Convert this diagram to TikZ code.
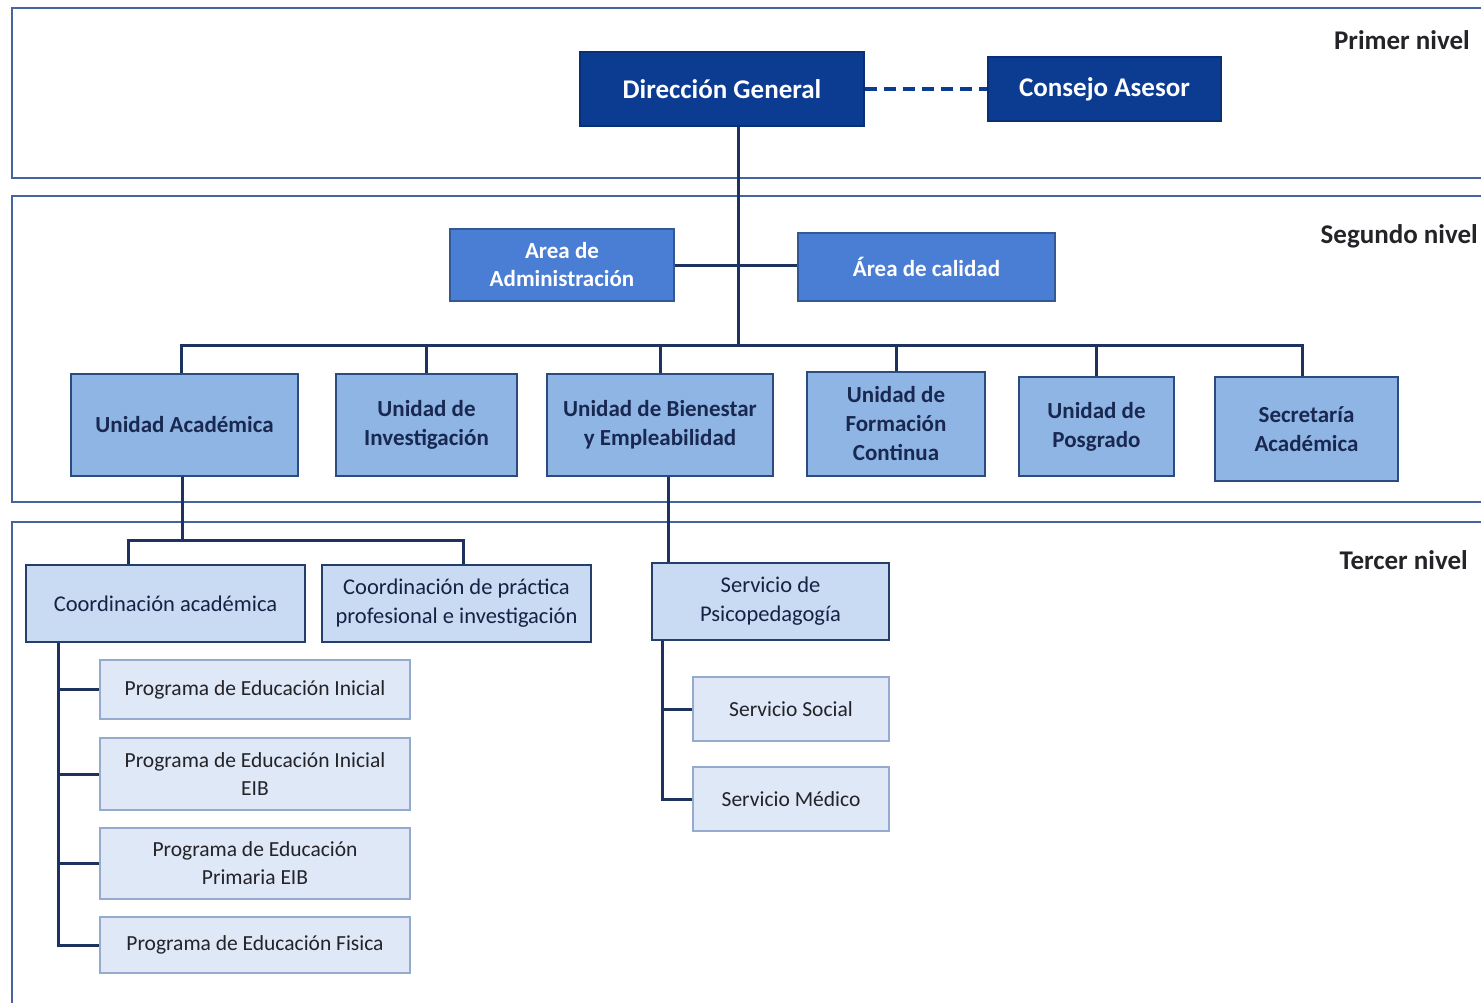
\documentclass[tikz,border=0pt]{standalone}
\usepackage{fontspec}
\setmainfont{Carlito}
\definecolor{dgblue}{RGB}{12,60,145}
\definecolor{midblue}{RGB}{74,126,212}
\definecolor{unitblue}{RGB}{143,181,228}
\definecolor{coordblue}{RGB}{200,219,243}
\definecolor{progblue}{RGB}{222,232,247}
\definecolor{linenavy}{RGB}{30,50,95}
\definecolor{framec}{RGB}{70,100,160}
\definecolor{progborder}{RGB}{150,170,205}
\definecolor{textnavy}{RGB}{25,40,80}
\definecolor{labelgray}{RGB}{35,35,40}
\begin{document}
\begin{tikzpicture}[x=1pt,y=-1pt,
  frame/.style={draw=framec,line width=2pt},
  conn/.style={draw=linenavy,line width=3pt},
  topbox/.style={rectangle,draw=dgblue!80!black,line width=1.5pt,fill=dgblue,text=white,font=\fontsize{27}{30}\selectfont\bfseries,inner sep=0pt,align=center},
  areabox/.style={rectangle,draw=midblue!70!black,line width=1.5pt,fill=midblue,text=white,font=\fontsize{23}{28}\selectfont\bfseries,inner sep=0pt,align=center},
  unitbox/.style={rectangle,draw=midblue!60!black,line width=1.5pt,fill=unitblue,text=textnavy,font=\fontsize{23}{29}\selectfont\bfseries,inner sep=0pt,align=center},
  coordbox/.style={rectangle,draw=midblue!50!black,line width=1.5pt,fill=coordblue,text=textnavy!85!black,font=\fontsize{22.5}{29}\selectfont,inner sep=0pt,align=center},
  progbox/.style={rectangle,draw=progborder,line width=1.5pt,fill=progblue,text=labelgray,font=\fontsize{21.5}{28}\selectfont,inner sep=0pt,align=center},
  levellabel/.style={anchor=east,text=labelgray,font=\fontsize{27}{30}\selectfont\bfseries,inner sep=0pt}
]
\useasboundingbox[fill=white] (0,0) rectangle (1481,1002);
% level frames
\draw[frame] (12,8) rectangle (1500,178);
\draw[frame] (12,196) rectangle (1500,502);
\draw[frame] (12,522) rectangle (1500,1020);
\node[levellabel] (l1) at (1470,40) {Primer nivel};
\node[levellabel] (l2) at (1478,236) {Segundo nivel};
\node[levellabel] (l3) at (1468,560) {Tercer nivel};
% first level
\node[topbox,minimum width=284pt,minimum height=74pt] (dg) at (722,89) {Dirección General};
\node[topbox,minimum width=233pt,minimum height=64pt] (ca) at (1104.5,89) {Consejo Asesor};
% second level
\node[areabox,minimum width=224pt,minimum height=72pt] (aa) at (562,265) {Area de\\Administración};
\node[areabox,minimum width=257pt,minimum height=68pt] (ac) at (926.5,267) {Área de calidad};
\node[unitbox,minimum width=227pt,minimum height=102pt] (ua) at (184.5,425) {Unidad Académica};
\node[unitbox,minimum width=181pt,minimum height=102pt] (ui) at (426.5,425) {Unidad de\\Investigación};
\node[unitbox,minimum width=226pt,minimum height=102pt] (ub) at (660,425) {Unidad de Bienestar\\y Empleabilidad};
\node[unitbox,minimum width=178pt,minimum height=104pt] (uf) at (896,424) {Unidad de\\Formación\\Continua};
\node[unitbox,minimum width=155pt,minimum height=99pt] (up) at (1096.5,426.5) {Unidad de\\Posgrado};
\node[unitbox,minimum width=183pt,minimum height=104pt] (sa) at (1306.5,429) {Secretaría\\Académica};
% third level
\node[coordbox,minimum width=279pt,minimum height=77pt] (coa) at (165.5,603.5) {Coordinación académica};
\node[coordbox,minimum width=269pt,minimum height=77pt] (cop) at (456.5,603.5) {Coordinación de práctica\\profesional e investigación};
\node[coordbox,minimum width=237pt,minimum height=77pt] (sp) at (770.5,601.5) {Servicio de\\Psicopedagogía};
\node[progbox,minimum width=196pt,minimum height=64pt] (ss) at (791,709) {Servicio Social};
\node[progbox,minimum width=196pt,minimum height=64pt] (sm) at (791,799) {Servicio Médico};
\node[progbox,minimum width=310pt,minimum height=59pt] (p1) at (255,689.5) {Programa de Educación Inicial};
\node[progbox,minimum width=310pt,minimum height=72pt] (p2) at (255,774) {Programa de Educación Inicial\\EIB};
\node[progbox,minimum width=310pt,minimum height=71pt] (p3) at (255,863.5) {Programa de Educación\\Primaria EIB};
\node[progbox,minimum width=310pt,minimum height=56pt] (p4) at (255,945) {Programa de Educación Fisica};
% junction coordinates
\coordinate (j1) at (738,345);
\coordinate (j2) at (182,540);
\coordinate (j2L) at (128,540);
\coordinate (j3) at (668,520);
\coordinate (j4) at (662,799);
\coordinate (j5) at (58,945);
% connectors
\draw[draw=dgblue,line width=3.5pt,dash pattern=on 12pt off 7pt] (dg.east) -- (ca.west);
\draw[conn] (j1 |- dg.south) -- (j1);
\draw[conn] (aa.east) -- (aa.east -| ac.west);
\draw[conn] (j1) -| ([xshift=-3.5pt]ua.north);
\draw[conn] (j1) -| (ui.north);
\draw[conn] (j1) -| (ub.north);
\draw[conn] (j1) -| (uf.north);
\draw[conn] (j1) -| (up.north);
\draw[conn] (j1) -| ([xshift=-4.5pt]sa.north);
\draw[conn] (j2 |- ua.south) -- (j2);
\draw[conn] (j2L |- coa.north) -- (j2L) -- (j2) -| ([xshift=6.5pt]cop.north);
\draw[conn] (j3 |- ub.south) -- (j3 |- sp.north);
\draw[conn] (j4 |- sp.south) -- (j4) -- (sm.west);
\draw[conn] (j4 |- ss.west) -- (ss.west);
\draw[conn] (j5 |- coa.south) -- (j5) -- (p4.west);
\draw[conn] (j5 |- p1.west) -- (p1.west);
\draw[conn] (j5 |- p2.west) -- (p2.west);
\draw[conn] (j5 |- p3.west) -- (p3.west);
\end{tikzpicture}
\end{document}
